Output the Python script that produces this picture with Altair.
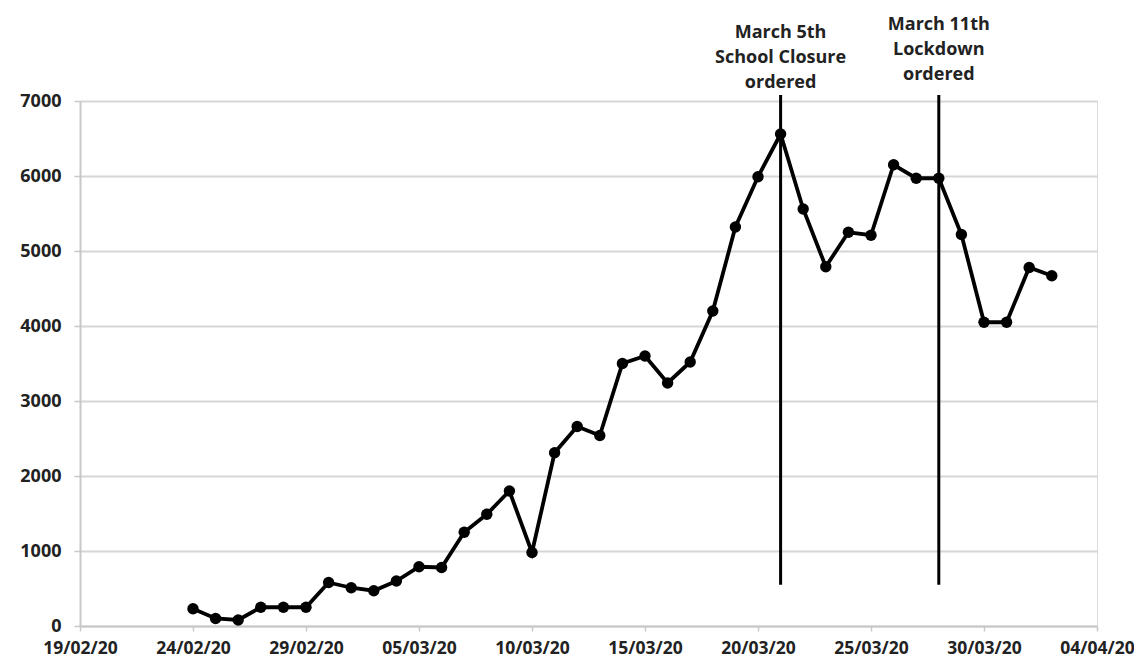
import altair as alt
import pandas as pd

# Daily values from 24/02/20 to 02/04/20
dates = pd.date_range("2020-02-24", "2020-04-02", freq="D").strftime("%Y-%m-%d").tolist()
values = [230, 100, 80, 250, 250, 250,
          580, 510, 470, 600, 790, 780, 1250, 1490, 1800, 980,
          2310, 2660, 2540, 3500, 3600, 3240, 3520, 4200, 5320, 5990,
          6560, 5560, 4790, 5250, 5210, 6150, 5970, 5970, 5220, 4050, 4050,
          4780, 4670]

start_date = "2020-02-19"
tick_days = [0, 5, 10, 15, 20, 25, 30, 35, 40, 45]
tick_labels = ["19/02/20", "24/02/20", "29/02/20", "05/03/20", "10/03/20",
               "15/03/20", "20/03/20", "25/03/20", "30/03/20", "04/04/20"]

event_dates = ["2020-03-21", "2020-03-28"]
event_labels = ["March 5th\nSchool Closure\nordered", "March 11th\nLockdown\nordered"]
rule_low = [550, 550]
rule_high = [7080, 7080]

y_ticks = [0, 1000, 2000, 3000, 4000, 5000, 6000, 7000]

t0 = pd.Timestamp(start_date)
df = pd.DataFrame({"date": dates, "value": values})
df["day"] = (pd.to_datetime(df["date"]) - t0).dt.days

ev = pd.DataFrame({"date": event_dates, "label": event_labels,
                   "lo": rule_low, "hi": rule_high})
ev["day"] = (pd.to_datetime(ev["date"]) - t0).dt.days

FONT = "Open Sans"
label_expr = "[" + ",".join("'%s'" % s for s in tick_labels) + "][round(datum.value/5)]"

x_enc = alt.X("day:Q",
              scale=alt.Scale(domain=[0, 45], nice=False, zero=False),
              axis=alt.Axis(values=tick_days, labelExpr=label_expr, title=None,
                            grid=False, domainColor="#c8c8c8", domainWidth=2,
                            tickColor="#c8c8c8", tickWidth=1.5, tickSize=5,
                            labelPadding=8, labelFont=FONT, labelFontSize=17.5,
                            labelFlush=False, labelOverlap=False,
                            labelFontWeight="bold", labelColor="#222222"))
y_scale = alt.Scale(domain=[0, 7000], nice=False)
y_enc = alt.Y("value:Q", scale=y_scale,
              axis=alt.Axis(values=y_ticks, format="d", title=None, grid=True,
                            gridColor="#d6d6d6", gridWidth=2,
                            domainColor="#c8c8c8", domainWidth=2,
                            tickColor="#c8c8c8", tickWidth=1.5, tickSize=6,
                            labelPadding=13, labelFont=FONT, labelFontSize=18,
                            labelFontWeight="bold", labelColor="#222222"))

base = alt.Chart(df)
line = base.mark_line(color="black", strokeWidth=3.8).encode(x=x_enc, y=y_enc)
pts = base.mark_circle(color="black", opacity=1, size=130).encode(x="day:Q", y="value:Q")

rules = alt.Chart(ev).mark_rule(color="black", strokeWidth=3).encode(
    x="day:Q", y=alt.Y("lo:Q", scale=y_scale), y2="hi:Q")

txt1 = alt.Chart(ev.iloc[[0]]).mark_text(
    lineBreak="\n", font=FONT, fontSize=18, fontWeight="bold", color="#222222",
    baseline="top", align="center", lineHeight=25, dy=-77).encode(
    x="day:Q", y=alt.value(0), text="label:N")
txt2 = alt.Chart(ev.iloc[[1]]).mark_text(
    lineBreak="\n", font=FONT, fontSize=18, fontWeight="bold", color="#222222",
    baseline="top", align="center", lineHeight=25, dy=-85).encode(
    x="day:Q", y=alt.value(0), text="label:N")

chart = alt.layer(line, pts, rules, txt1, txt2).properties(
    width=1017, height=525,
    autosize=alt.AutoSizeParams(type="none"),
    padding={"left": 72, "top": 93, "right": 37, "bottom": 30},
).configure_view(stroke=None).configure(background="white")

chart.save("out.html", embed_options={"renderer": "svg", "actions": False})
